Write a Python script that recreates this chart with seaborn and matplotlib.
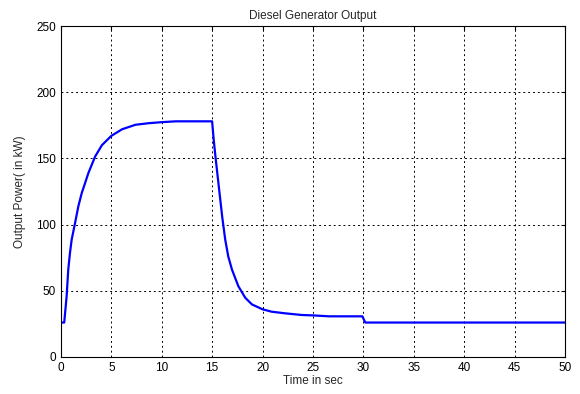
import pandas as pd
import matplotlib
matplotlib.use("Agg")
import matplotlib.pyplot as plt
import seaborn as sns

# Values
time_s = [0.0, 0.0, 0.33, 0.57, 0.73, 0.9, 1.07, 1.4, 1.73, 2.07, 2.4, 2.73,
          3.4, 4.07, 5.0, 6.07, 7.4, 8.73, 10.07, 11.4, 15.0, 15.16, 15.33,
          15.66, 16.0, 16.3, 16.6, 16.97, 17.6, 18.29, 18.95, 20.0, 20.9, 22.2,
          23.9, 25.0, 26.6, 29.9, 30.2, 50.0]
power_kw = [63.5, 26.0, 26.0, 46.0, 66.0, 78.6, 88.7, 101.0, 113.8, 123.9,
            131.4, 139.0, 151.5, 160.0, 167.0, 172.0, 175.4, 176.6, 177.4,
            178.0, 178.0, 164.0, 151.5, 129.0, 106.0, 88.7, 76.0, 66.0, 53.5,
            44.7, 39.7, 36.0, 34.2, 33.0, 31.7, 31.4, 30.7, 30.7, 26.0, 26.0]

df = pd.DataFrame({"Time": time_s, "Power": power_kw})

sns.set_style("white")
plt.rcParams["font.family"] = ["Liberation Sans", "DejaVu Sans"]

fig = plt.figure(figsize=(5.8, 3.94), dpi=100)
ax = fig.add_axes([0.105, 0.094, 0.869, 0.84])

sns.lineplot(data=df, x="Time", y="Power", color="#0000ff", linewidth=1.6,
             sort=False, estimator=None, ax=ax)

ax.set_xlim(0, 50)
ax.set_ylim(0, 250)
ax.set_xticks(range(0, 51, 5))
ax.set_yticks(range(0, 251, 50))
ax.grid(True, color="black", linestyle=(0, (2, 3)), linewidth=0.7)
for sp in ax.spines.values():
    sp.set_color("black")
    sp.set_linewidth(0.8)
ax.tick_params(direction="in", length=3, labelsize=8.5, colors="black",
               top=True, right=True)
ax.set_title("Diesel Generator Output", fontsize=8.5, pad=5)
ax.set_xlabel("Time in sec", fontsize=8.5, labelpad=1)
ax.set_ylabel("Output Power( in kW)", fontsize=8.5, labelpad=7)

fig.savefig("out.png", dpi=100)
